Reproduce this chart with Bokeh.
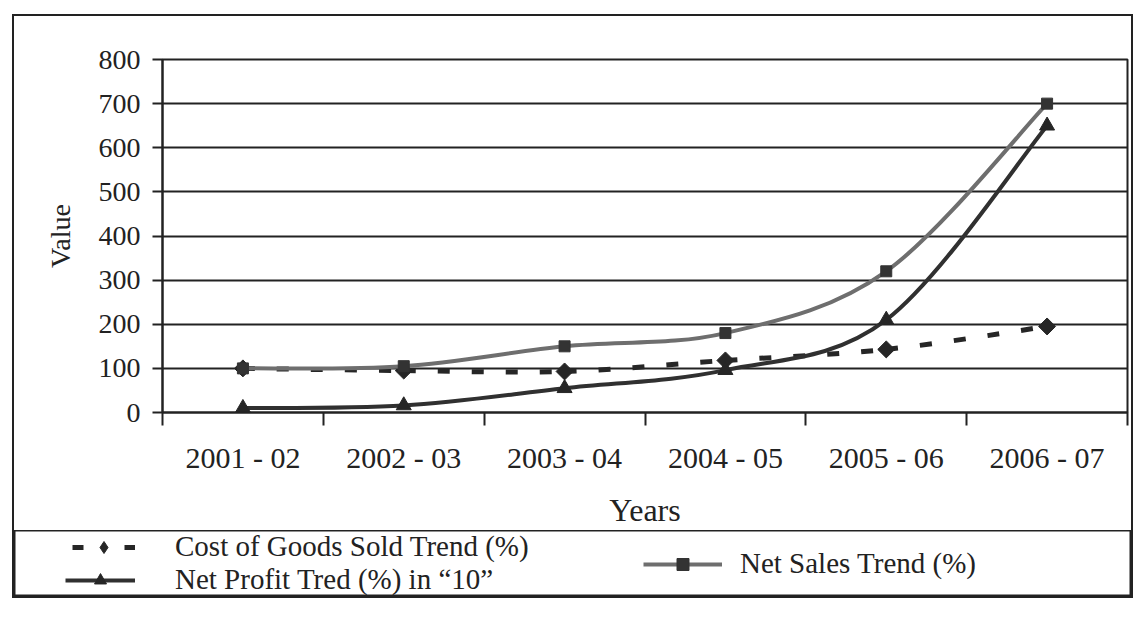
import math
from bokeh.plotting import figure
from bokeh.models import Range1d, FixedTicker, Legend, LegendItem, ColumnDataSource
from bokeh.layouts import column
from bokeh.embed import file_html
from bokeh.resources import INLINE

# ---------------- data ----------------
years = ["2001 - 02", "2002 - 03", "2003 - 04", "2004 - 05", "2005 - 06", "2006 - 07"]
cogs_trend = [100, 95, 93, 118, 143, 195]          # Cost of Goods Sold Trend (%)
net_profit_trend = [10, 16, 55, 96, 210, 650]      # Net Profit Tred (%) in "10"
net_sales_trend = [100, 105, 150, 180, 320, 700]   # Net Sales Trend (%)
value_ticks = [0, 100, 200, 300, 400, 500, 600, 700, 800]

label_cogs = "Cost of Goods Sold Trend (%)"
label_profit = "Net Profit Tred (%) in \u201c10\u201d"
label_sales = "Net Sales Trend (%)"

FONT = "Liberation Serif"
INK = "#222222"
C_COGS = "#262626"
C_PROFIT = "#303030"
C_SALES = "#6e6e6e"

xs = [i + 0.5 for i in range(len(years))]          # category centres
boundaries = list(range(len(years) + 1))           # category boundaries


def smooth(xv, yv):
    """Bezier control points (Catmull-Rom style) for a smoothed line."""
    n = len(xv)
    d = dict(x0=[], y0=[], x1=[], y1=[], cx0=[], cy0=[], cx1=[], cy1=[])
    for i in range(n - 1):
        a = max(i - 1, 0)
        b = min(i + 2, n - 1)
        d["x0"].append(xv[i]); d["y0"].append(yv[i])
        d["x1"].append(xv[i + 1]); d["y1"].append(yv[i + 1])
        d["cx0"].append(xv[i] + (xv[i + 1] - xv[a]) / 6)
        d["cy0"].append(yv[i] + (yv[i + 1] - yv[a]) / 6)
        d["cx1"].append(xv[i + 1] - (xv[b] - xv[i]) / 6)
        d["cy1"].append(yv[i + 1] - (yv[b] - yv[i]) / 6)
    return ColumnDataSource(d)


bz = dict(x0="x0", y0="y0", x1="x1", y1="y1", cx0="cx0", cy0="cy0", cx1="cx1", cy1="cy1")

# ---------------- main chart ----------------
p = figure(width=1117, height=514,
           x_range=Range1d(0, len(years)), y_range=Range1d(0, 800),
           output_backend="svg", toolbar_location=None,
           min_border_left=148, min_border_right=4, min_border_top=43, min_border_bottom=110,
           background_fill_color="white", border_fill_color="white",
           outline_line_color=INK, outline_line_width=2)
p.frame_align = False

p.xgrid.visible = False
p.ygrid.grid_line_color = INK
p.ygrid.grid_line_width = 2

xa = p.xaxis[0]
xa.ticker = FixedTicker(ticks=xs, minor_ticks=boundaries)
xa.major_label_overrides = {x: lbl for x, lbl in zip(xs, years)}
xa.major_tick_line_color = None
xa.major_tick_out = 0
xa.major_tick_in = 0
xa.minor_tick_line_color = INK
xa.minor_tick_line_width = 2
xa.minor_tick_out = 13
xa.minor_tick_in = 0
xa.major_label_standoff = 15
xa.major_label_text_font_size = "30px"
xa.axis_label = "Years"
xa.axis_label_standoff = 15
xa.axis_label_text_font_size = "32px"

ya = p.yaxis[0]
ya.ticker = FixedTicker(ticks=value_ticks, minor_ticks=[])
ya.major_tick_out = 10
ya.major_tick_in = 0
ya.major_tick_line_width = 2
ya.major_tick_line_color = INK
ya.minor_tick_line_color = None
ya.major_label_standoff = 12
ya.major_label_text_font_size = "28px"
ya.axis_label = "Value"
ya.axis_label_standoff = 20
ya.axis_label_text_font_size = "28px"

for ax in (xa, ya):
    ax.axis_line_color = INK
    ax.axis_line_width = 2
    ax.major_label_text_font = FONT
    ax.major_label_text_color = INK
    ax.axis_label_text_font = FONT
    ax.axis_label_text_font_style = "normal"
    ax.axis_label_text_color = INK

# Cost of goods sold: dashed, diamonds
p.bezier(source=smooth(xs, cogs_trend), **bz, line_color=C_COGS, line_width=5, line_dash="12 22")
p.scatter(xs, cogs_trend, marker="square", angle=math.pi / 4, size=12,
          fill_color=C_COGS, line_color=C_COGS)

# Net profit: dark solid, triangles
p.bezier(source=smooth(xs, net_profit_trend), **bz, line_color=C_PROFIT, line_width=4)
p.scatter(xs, net_profit_trend, marker="triangle", size=15,
          fill_color=C_COGS, line_color=C_COGS)

# Net sales: grey solid, squares
p.bezier(source=smooth(xs, net_sales_trend), **bz, line_color=C_SALES, line_width=4)
p.scatter(xs, net_sales_trend, marker="square", size=11,
          fill_color="#333333", line_color="#333333")

# ---------------- legend strip ----------------
# The same series are drawn here far outside the strip's visible range (clipped),
# only so that the legends have glyphs to show.
p2 = figure(width=1117, height=66, x_range=Range1d(0, 1), y_range=Range1d(0, 1),
            output_backend="svg", toolbar_location=None,
            x_axis_type=None, y_axis_type=None, min_border=0,
            background_fill_color="white", border_fill_color="white",
            outline_line_color=INK, outline_line_width=2)
p2.frame_align = False

l_cogs = p2.line(xs, cogs_trend, line_color=C_COGS, line_width=5, line_dash="11 41")
m_cogs = p2.scatter(xs, cogs_trend, marker="diamond",
                    fill_color=C_COGS, line_color=C_COGS)
l_prof = p2.line(xs, net_profit_trend, line_color=C_PROFIT, line_width=4)
m_prof = p2.scatter(xs, net_profit_trend, marker="triangle",
                    fill_color=C_COGS, line_color=C_COGS)
l_sale = p2.line(xs, net_sales_trend, line_color=C_SALES, line_width=4)
m_sale = p2.scatter(xs, net_sales_trend, marker="square",
                    fill_color="#333333", line_color="#333333")

common = dict(orientation="vertical", padding=0, margin=0, spacing=0,
              border_line_color=None, background_fill_alpha=0,
              label_text_font=FONT, label_text_font_size="29px", label_text_color=INK,
              glyph_height=30, label_height=30)

leg_cogs = Legend(items=[LegendItem(label=label_cogs, renderers=[l_cogs, m_cogs])],
                  location=(58, 33), glyph_width=63, label_standoff=40, **common)
leg_prof = Legend(items=[LegendItem(label=label_profit, renderers=[l_prof, m_prof])],
                  location=(51, 0), glyph_width=70, label_standoff=40, **common)
leg_sale = Legend(items=[LegendItem(label=label_sales, renderers=[l_sale, m_sale])],
                  location=(629, 16), glyph_width=79, label_standoff=18, **common)
for lg in (leg_cogs, leg_prof, leg_sale):
    p2.add_layout(lg)

layout = column(p, p2, spacing=0, margin=(14, 0, 0, 12),
                styles={"border": "2px solid #222222"})

open("out.html", "w").write(file_html(layout, INLINE))
